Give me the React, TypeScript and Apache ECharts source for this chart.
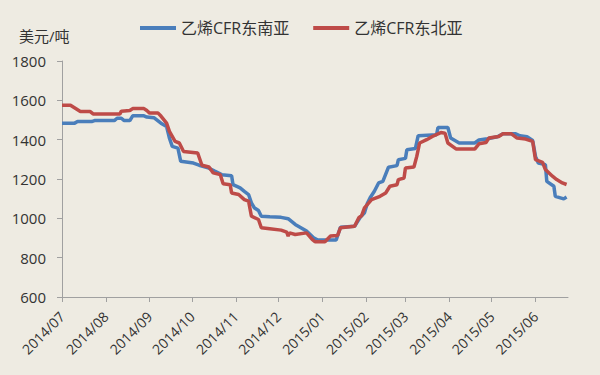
import React, { useEffect, useRef } from "react";
import * as echarts from "echarts";

const seriesNames = ["乙烯CFR东南亚", "乙烯CFR东北亚"];

const seaDates = [
  "2014-07-01", "2014-07-10", "2014-07-12", "2014-07-22", "2014-07-24", "2014-08-07", "2014-08-09", "2014-08-12",
  "2014-08-14", "2014-08-18", "2014-08-20", "2014-08-28", "2014-08-30", "2014-09-04", "2014-09-09", "2014-09-13",
  "2014-09-15", "2014-09-17", "2014-09-21", "2014-09-23", "2014-10-02", "2014-10-06", "2014-10-13", "2014-10-17",
  "2014-10-22", "2014-10-29", "2014-10-30", "2014-11-04", "2014-11-07", "2014-11-10", "2014-11-12", "2014-11-14",
  "2014-11-17", "2014-11-19", "2014-11-25", "2014-12-03", "2014-12-08", "2014-12-13", "2014-12-17", "2014-12-21",
  "2014-12-26", "2014-12-29", "2015-01-11", "2015-01-14", "2015-01-24", "2015-01-28", "2015-01-31", "2015-02-02",
  "2015-02-04", "2015-02-07", "2015-02-10", "2015-02-13", "2015-02-17", "2015-02-23", "2015-02-24", "2015-03-01",
  "2015-03-02", "2015-03-08", "2015-03-10", "2015-03-23", "2015-03-24", "2015-03-31", "2015-04-02", "2015-04-08",
  "2015-04-19", "2015-04-22", "2015-04-28", "2015-05-05", "2015-05-09", "2015-05-18", "2015-05-21", "2015-05-26",
  "2015-05-30", "2015-06-01", "2015-06-03", "2015-06-08", "2015-06-09", "2015-06-14", "2015-06-15", "2015-06-21",
  "2015-06-23",
];
const seaValues = [
  1484, 1484, 1492, 1492, 1497, 1497, 1509, 1509,
  1497, 1497, 1521, 1521, 1515, 1512, 1484, 1467,
  1408, 1366, 1357, 1290, 1281, 1270, 1255, 1240,
  1222, 1217, 1171, 1155, 1137, 1121, 1079, 1054,
  1040, 1011, 1008, 1005, 998, 969, 952, 935,
  901, 890, 890, 955, 960, 1005, 1028, 1075,
  1105, 1138, 1180, 1188, 1260, 1268, 1298, 1305,
  1349, 1355, 1420, 1425, 1462, 1462, 1408, 1383,
  1383, 1398, 1405, 1415, 1430, 1430, 1420, 1415,
  1396, 1315, 1281, 1273, 1188, 1163, 1112, 1099,
  1108,
];

const neaDates = [
  "2014-07-01", "2014-07-07", "2014-07-14", "2014-07-21", "2014-07-23", "2014-08-11", "2014-08-12", "2014-08-18",
  "2014-08-20", "2014-08-28", "2014-08-30", "2014-09-01", "2014-09-07", "2014-09-09", "2014-09-13", "2014-09-15",
  "2014-09-19", "2014-09-22", "2014-09-25", "2014-10-05", "2014-10-08", "2014-10-13", "2014-10-16", "2014-10-21",
  "2014-10-23", "2014-10-28", "2014-10-29", "2014-11-03", "2014-11-07", "2014-11-10", "2014-11-12", "2014-11-17",
  "2014-11-19", "2014-11-25", "2014-12-03", "2014-12-07", "2014-12-08", "2014-12-09", "2014-12-13", "2014-12-21",
  "2014-12-25", "2014-12-27", "2015-01-03", "2015-01-07", "2015-01-12", "2015-01-14", "2015-01-24", "2015-01-27",
  "2015-01-29", "2015-01-31", "2015-02-05", "2015-02-11", "2015-02-15", "2015-02-18", "2015-02-23", "2015-02-24",
  "2015-02-28", "2015-03-01", "2015-03-07", "2015-03-09", "2015-03-11", "2015-03-16", "2015-03-20", "2015-03-26",
  "2015-03-29", "2015-03-31", "2015-04-06", "2015-04-19", "2015-04-22", "2015-04-27", "2015-04-29", "2015-05-06",
  "2015-05-09", "2015-05-15", "2015-05-19", "2015-05-25", "2015-05-30", "2015-06-01", "2015-06-06", "2015-06-08",
  "2015-06-13", "2015-06-16", "2015-06-20", "2015-06-23",
];
const neaValues = [
  1575, 1575, 1543, 1543, 1531, 1531, 1545, 1548,
  1558, 1558, 1548, 1535, 1535, 1520, 1484, 1442,
  1391, 1383, 1340, 1332, 1270, 1261, 1231, 1222,
  1176, 1171, 1129, 1121, 1095, 1087, 1011, 994,
  952, 947, 940, 930, 910, 926, 918, 926,
  893, 881, 881, 910, 913, 952, 960, 1003,
  1014, 1053, 1095, 1112, 1129, 1163, 1171, 1197,
  1205, 1256, 1261, 1315, 1383, 1400, 1416, 1436,
  1433, 1383, 1352, 1352, 1379, 1386, 1408, 1416,
  1430, 1430, 1408, 1403, 1391, 1298, 1285, 1248,
  1214, 1197, 1180, 1172,
];

const monthTicks = [
  "2014-07-01", "2014-08-01", "2014-09-01", "2014-10-01", "2014-11-01", "2014-12-01",
  "2015-01-01", "2015-02-01", "2015-03-01", "2015-04-01", "2015-05-01", "2015-06-01",
];
const xMin = "2014-07-01";
const xMax = "2015-06-24";
const yMin = 600;
const yMax = 1800;
const yInterval = 200;
const yUnit = "美元/吨";

const toTs = (s: string) => {
  const [y, m, d] = s.split("-").map(Number);
  return new Date(y, m - 1, d).getTime();
};

export default function App() {
  const ref = useRef<HTMLDivElement>(null);
  useEffect(() => {
    document.body.style.margin = "0";
    if (!ref.current) return;
    const chart = echarts.init(ref.current, undefined, { renderer: "svg" });
    const tickTs = monthTicks.map(toTs);
    const font = "'Open Sans', 'Noto Sans CJK SC', sans-serif";
    const textColor = "#333333";
    chart.setOption({
      animation: false,
      backgroundColor: "#EEEBE2",
      textStyle: { fontFamily: font },
      color: ["#4A7EBB", "#BE4B48"],
      legend: {
        top: 15,
        left: 135,
        itemWidth: 36,
        itemHeight: 4,
        itemGap: 24,
        icon: "rect",
        textStyle: { fontSize: 16, color: textColor, fontFamily: font },
        data: seriesNames,
      },
      graphic: [
        {
          type: "text",
          left: 19,
          top: 28,
          style: { text: yUnit, fontSize: 15, fill: textColor, fontFamily: font },
        },
      ],
      grid: { left: 62, right: 32, top: 61, bottom: 78, containLabel: false },
      xAxis: {
        type: "value",
        min: toTs(xMin),
        max: toTs(xMax),
        axisLine: { show: true, lineStyle: { color: "#A0A0A0", width: 1 } },
        axisTick: { show: true, length: 5, lineStyle: { color: "#A0A0A0" }, customValues: tickTs },
        splitLine: { show: false },
        axisLabel: {
          customValues: tickTs,
          rotate: 45,
          fontSize: 14,
          color: textColor,
          margin: 17,
          hideOverlap: false,
          showMinLabel: true,
          showMaxLabel: true,
          formatter: (v: number) => {
            const d = new Date(v);
            const m = d.getMonth() + 1;
            return `${d.getFullYear()}/${m < 10 ? "0" + m : m}`;
          },
        },
      },
      yAxis: {
        type: "value",
        min: yMin,
        max: yMax,
        interval: yInterval,
        axisLine: { show: true, lineStyle: { color: "#A0A0A0", width: 1 } },
        axisTick: { show: true, length: 5, lineStyle: { color: "#A0A0A0" } },
        splitLine: { show: false },
        axisLabel: { fontSize: 15, color: textColor, margin: 16, formatter: (v: number) => String(v) },
      },
      series: [
        {
          name: seriesNames[0],
          type: "line",
          symbol: "none",
          lineStyle: { width: 3.5, color: "#4A7EBB" },
          data: seaDates.map((d, i) => [toTs(d), seaValues[i]]),
        },
        {
          name: seriesNames[1],
          type: "line",
          symbol: "none",
          lineStyle: { width: 3.5, color: "#BE4B48" },
          data: neaDates.map((d, i) => [toTs(d), neaValues[i]]),
        },
      ],
    });
    return () => chart.dispose();
  }, []);
  return <div ref={ref} style={{ width: 600, height: 375, background: "#EEEBE2" }} />;
}
